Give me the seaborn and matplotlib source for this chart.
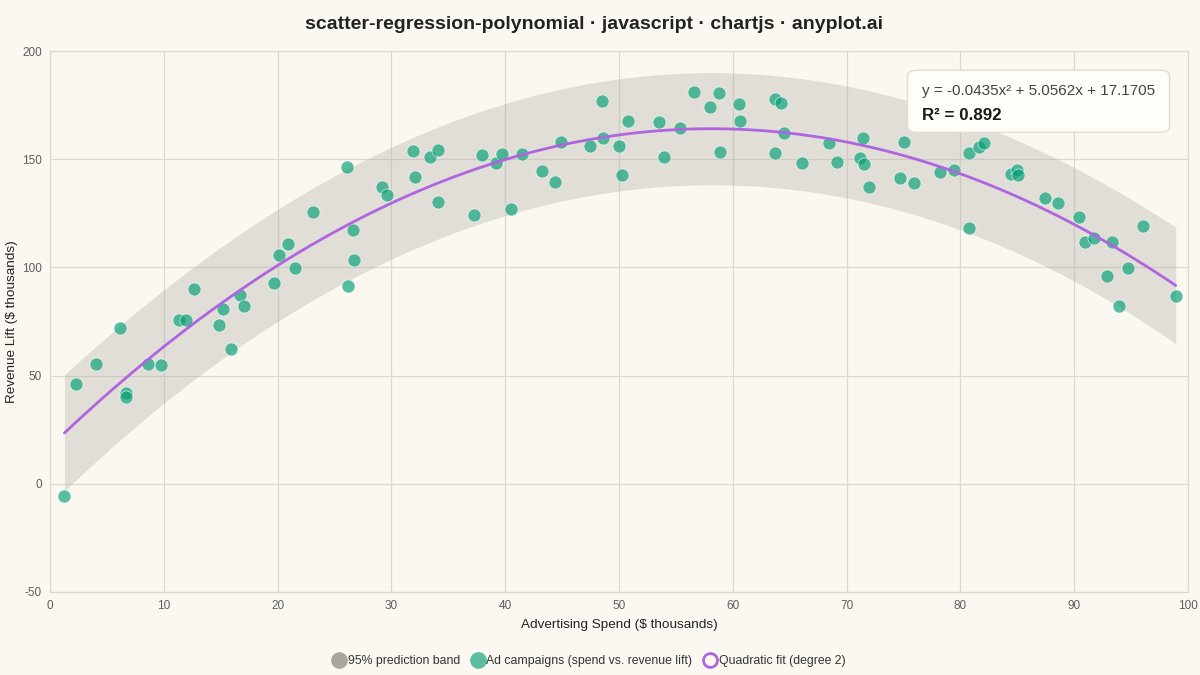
import numpy as np
import pandas as pd
import seaborn as sns
import matplotlib.pyplot as plt
from matplotlib.lines import Line2D
from matplotlib.patches import FancyBboxPatch

# campaign data
spend = [1.26, 2.26, 4.02, 6.15, 6.70, 6.70, 8.59, 9.75, 11.36, 11.98,
         12.68, 14.88, 15.20, 15.88, 16.67, 17.07, 19.66, 20.15, 20.89, 21.56,
         23.08, 26.10, 26.21, 26.63, 26.71, 29.20, 29.59, 31.90, 32.07, 33.39,
         34.07, 34.12, 37.23, 37.96, 39.19, 39.69, 40.54, 41.50, 43.26, 44.38,
         44.90, 47.48, 48.51, 48.57, 49.97, 50.24, 50.76, 53.49, 53.95, 55.36,
         56.59, 58.00, 58.79, 58.88, 60.54, 60.61, 63.68, 63.71, 64.26, 64.53,
         66.05, 68.43, 69.18, 71.18, 71.44, 71.50, 71.97, 74.69, 75.07, 75.95,
         78.21, 79.44, 80.78, 80.76, 81.63, 82.07, 84.42, 85.00, 85.06, 87.43,
         88.58, 90.42, 90.95, 91.74, 93.32, 92.88, 94.73, 93.94, 96.05, 98.92]
lift = [-5.7, 45.9, 55.5, 71.8, 41.9, 39.9, 55.5, 55.0, 75.8, 75.6,
        89.8, 73.5, 80.9, 62.2, 87.3, 82.3, 92.9, 105.7, 110.9, 99.8,
        125.7, 146.2, 91.5, 117.1, 103.2, 137.2, 133.4, 154.0, 141.7, 151.2,
        154.3, 130.3, 124.0, 152.0, 148.2, 152.4, 126.9, 152.6, 144.5, 139.6,
        158.0, 156.3, 176.8, 160.0, 156.3, 142.7, 167.6, 167.4, 151.2, 164.4,
        181.0, 174.2, 180.7, 153.4, 175.3, 167.7, 177.9, 152.8, 176.2, 161.9,
        148.3, 157.7, 148.9, 150.5, 159.6, 147.7, 137.1, 141.5, 157.9, 139.2,
        144.3, 145.0, 118.4, 153.1, 155.6, 157.4, 143.3, 145.1, 142.5, 132.2,
        129.9, 123.5, 111.7, 113.7, 111.8, 96.0, 99.7, 82.3, 119.2, 86.7]

# quadratic fit coefficients shown in the annotation (a2, a1, a0)
coefs = [-0.0435, 5.0562, 17.1705]
r2_text = "R\u00b2 = 0.892"
eq_text = "y = -0.0435x\u00b2 + 5.0562x + 17.1705"

df = pd.DataFrame({"spend": spend, "lift": lift})

# fitted curve + 95% prediction band
x = np.array(spend)
y = np.array(lift)
xs = np.linspace(x.min(), x.max(), 200)
ys = np.polyval(coefs, xs)
X = np.column_stack([np.ones_like(x), x, x ** 2])
resid = y - np.polyval(coefs, x)
s = np.sqrt(np.sum(resid ** 2) / (len(x) - 3))
XtX_inv = np.linalg.inv(X.T @ X)
Xs = np.column_stack([np.ones_like(xs), xs, xs ** 2])
h = np.einsum("ij,jk,ik->i", Xs, XtX_inv, Xs)
half = 1.988 * s * np.sqrt(1 + h)
fit = pd.DataFrame({"spend": xs, "lift": ys})

bg = "#FAF8F1"
grid_c = "#DDD9D0"
teal = "#009E73"
purple = "#AF64E0"
band_c = "#A8A49C"

sns.set_style("whitegrid")
plt.rcParams["font.family"] = ["Liberation Sans", "DejaVu Sans"]
plt.rcParams["axes.unicode_minus"] = False

fig = plt.figure(figsize=(12, 6.75), dpi=100, facecolor=bg)
ax = fig.add_axes([0.0417, 0.123, 0.9483, 0.8014])
ax.set_facecolor(bg)

ax.fill_between(xs, ys - half, ys + half, color=band_c, alpha=0.3,
                linewidth=0, zorder=1)
sns.scatterplot(data=df, x="spend", y="lift", ax=ax, color=teal, alpha=0.65,
                s=88, edgecolor="white", linewidth=0.6, zorder=3)
sns.lineplot(data=fit, x="spend", y="lift", ax=ax, color=purple,
             linewidth=2.0, zorder=4)

ax.set_xlim(0, 100)
ax.set_ylim(-50, 200)
ax.set_xticks(range(0, 101, 10))
ax.set_yticks(range(-50, 201, 50))
ax.grid(True, color=grid_c, linewidth=0.9)
for sp in ax.spines.values():
    sp.set_color(grid_c)
    sp.set_linewidth(0.9)
ax.tick_params(axis="both", length=4.5, color=grid_c, labelsize=8.5,
               labelcolor="#5E5E5E", pad=1.5)

ax.set_xlabel("Advertising Spend ($ thousands)", fontsize=9.7,
              color="#222222", labelpad=4.5)
ax.set_ylabel("Revenue Lift ($ thousands)", fontsize=9.7,
              color="#222222", labelpad=3)
fig.text(0.495, 0.963, "scatter-regression-polynomial \u00b7 javascript \u00b7 chartjs \u00b7 anyplot.ai",
         ha="center", va="center", fontsize=14.0, fontweight="bold", color="#222222")

# equation box
box = FancyBboxPatch((907.5 / 1200, 1 - 132.3 / 675), 262 / 1200, 62 / 675,
                     boxstyle="round,pad=0,rounding_size=0.008",
                     transform=fig.transFigure, facecolor="#FFFDF7",
                     edgecolor="#E2DED5", linewidth=1.0, zorder=10)
fig.patches.append(box)
fig.text(922.5 / 1200, 1 - 91.5 / 675, eq_text, ha="left", va="center",
         fontsize=11.0, fontweight="medium", color="#444444", zorder=11)
fig.text(922.5 / 1200, 1 - 115 / 675, r2_text, ha="left", va="center",
         fontsize=12.2, fontweight="bold", color="#1A1A1A", zorder=11)

handles = [
    Line2D([], [], marker="o", linestyle="", markersize=11,
           markerfacecolor="#AAA79F", markeredgecolor="#AAA79F"),
    Line2D([], [], marker="o", linestyle="", markersize=11,
           markerfacecolor="#5BBF9F", markeredgecolor="#5BBF9F"),
    Line2D([], [], marker="o", linestyle="", markersize=10,
           markerfacecolor="none", markeredgecolor=purple, markeredgewidth=2.0),
]
labels = ["95% prediction band", "Ad campaigns (spend vs. revenue lift)",
          "Quadratic fit (degree 2)"]
fig.legend(handles, labels, loc="center", bbox_to_anchor=(0.49, 1 - 661 / 675),
           ncol=3, frameon=False, fontsize=8.8, handletextpad=0.0,
           columnspacing=0.75, handlelength=1.4, labelcolor="#333333")

fig.savefig("out.png", dpi=100, facecolor=bg)
